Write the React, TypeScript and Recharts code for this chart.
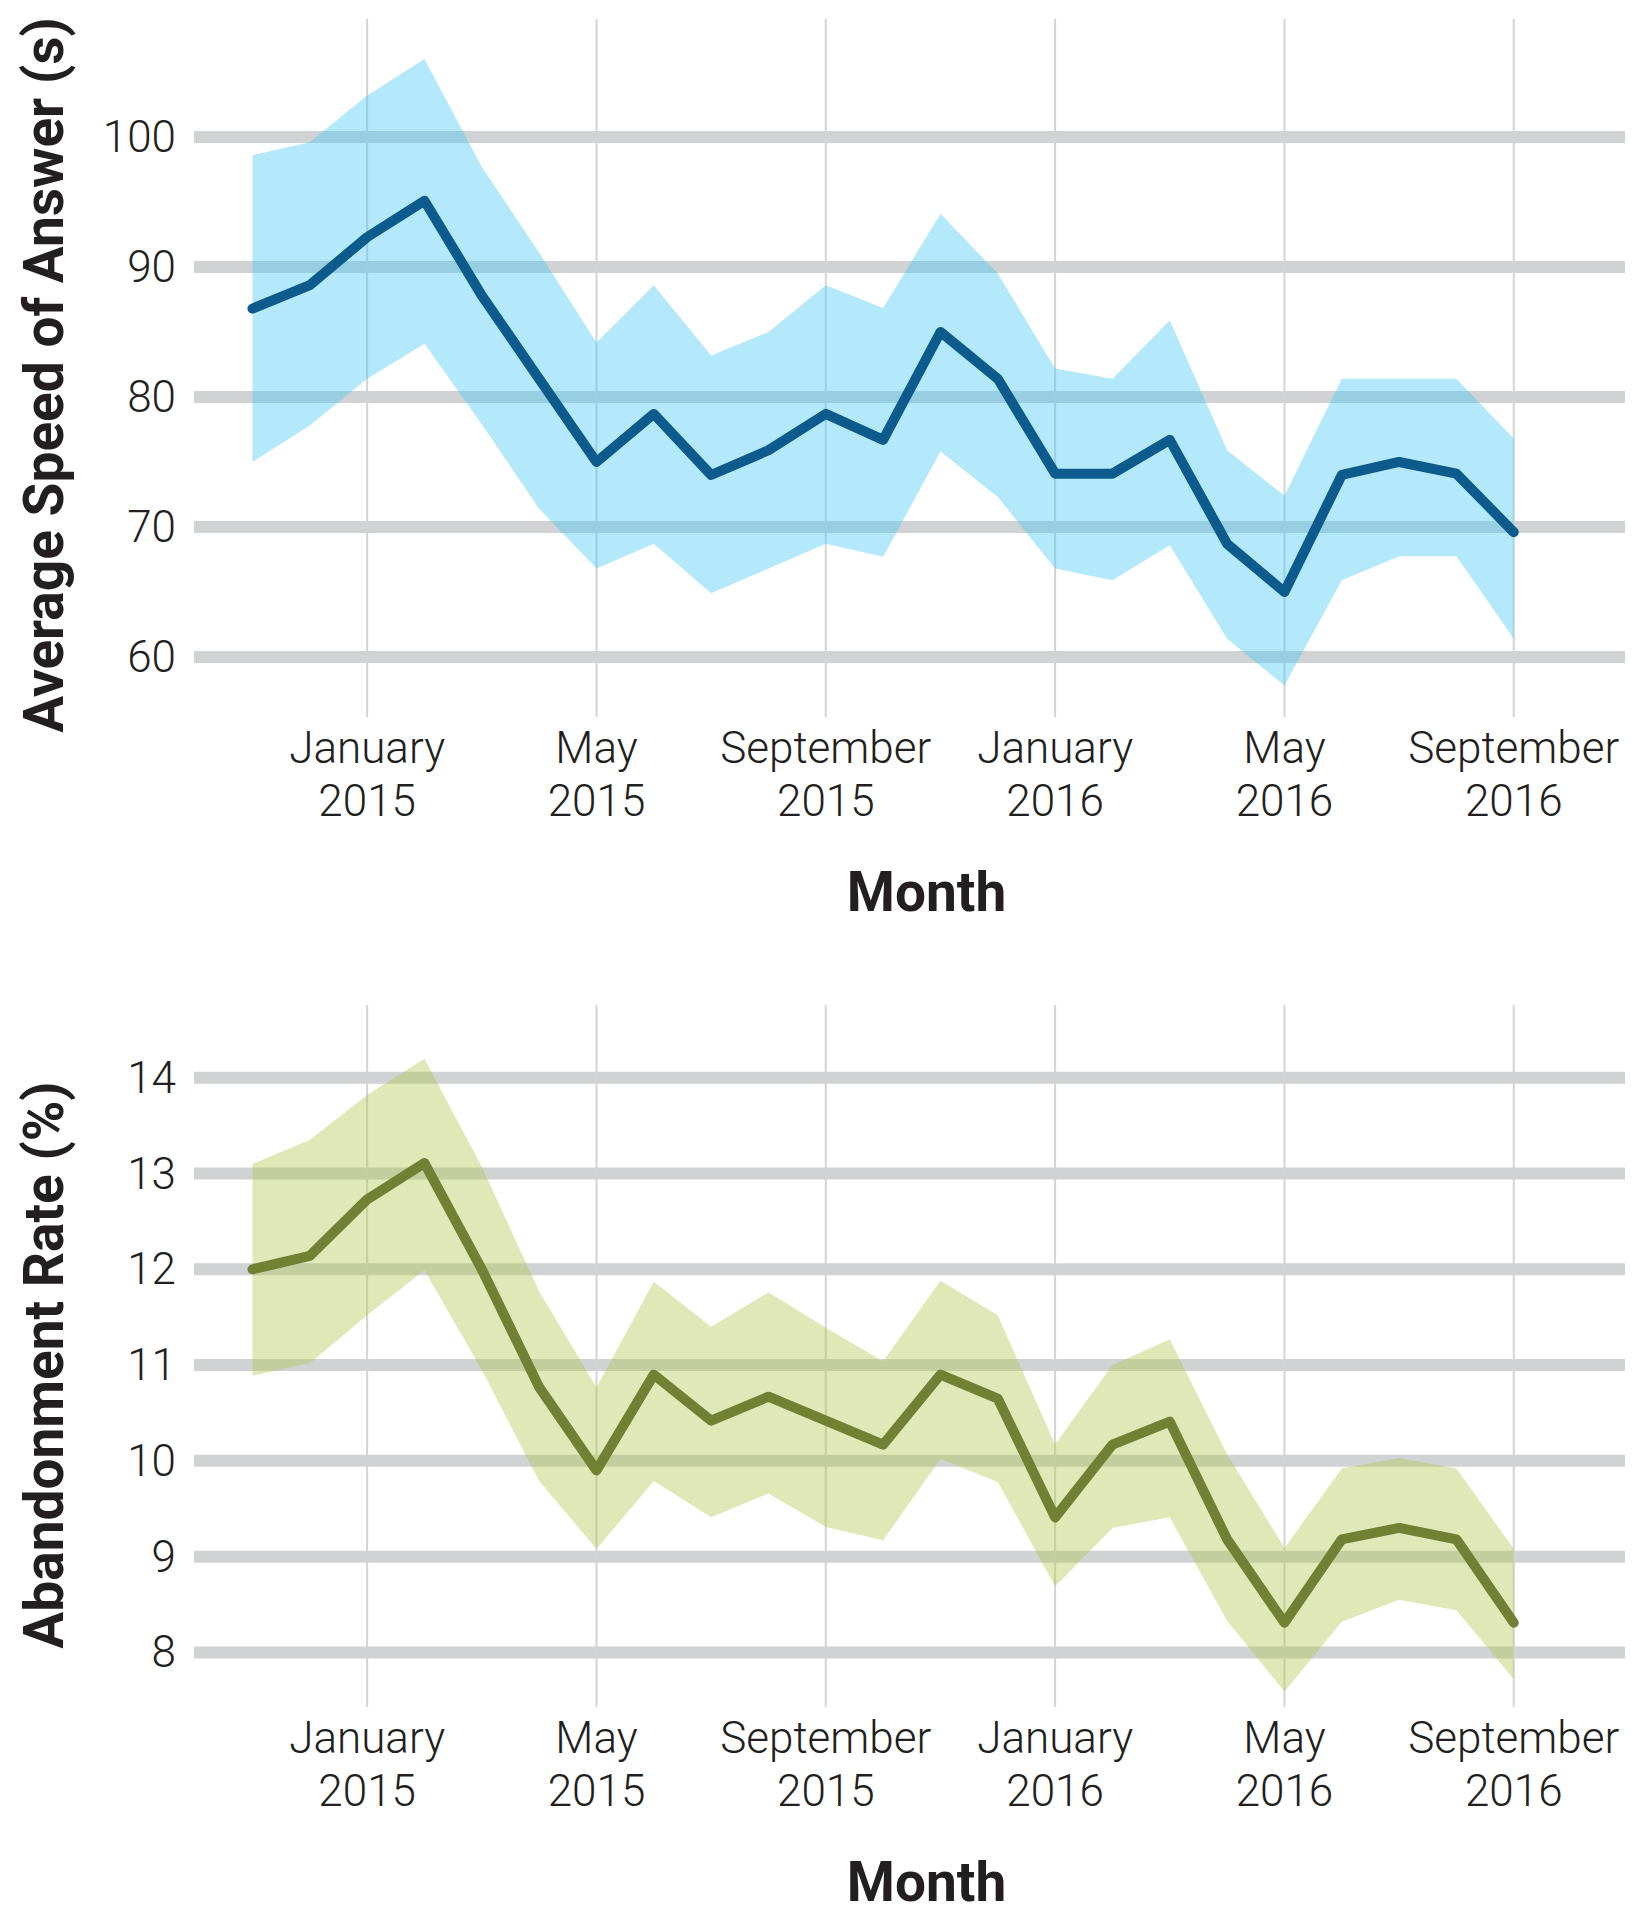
import React from 'react';
import { ComposedChart, Line, Area, XAxis, YAxis, CartesianGrid } from 'recharts';

// Months: Nov 2014 .. Sep 2016 (index 0..22)
const months = [
  'Nov 2014', 'Dec 2014', 'Jan 2015', 'Feb 2015', 'Mar 2015', 'Apr 2015', 'May 2015', 'Jun 2015',
  'Jul 2015', 'Aug 2015', 'Sep 2015', 'Oct 2015', 'Nov 2015', 'Dec 2015', 'Jan 2016', 'Feb 2016',
  'Mar 2016', 'Apr 2016', 'May 2016', 'Jun 2016', 'Jul 2016', 'Aug 2016', 'Sep 2016',
];

const asaMean = [86.8, 88.6, 92.3, 95.1, 87.8, 81.4, 75.0, 78.7, 74.0, 75.9, 78.7, 76.7, 85.0, 81.4, 74.1, 74.1, 76.7, 68.7, 65.0, 74.0, 75.0, 74.1, 69.6];
const asaUpper = [98.6, 99.6, 103.2, 106.0, 97.7, 91.1, 84.2, 88.6, 83.2, 85.0, 88.6, 86.85, 94.1, 89.5, 82.2, 81.4, 85.9, 75.9, 72.4, 81.4, 81.4, 81.4, 76.8];
const asaLower = [75.0, 77.8, 81.4, 84.1, 77.9, 71.4, 66.8, 68.7, 64.9, 66.8, 68.7, 67.7, 75.8, 72.3, 66.8, 65.9, 68.6, 61.4, 57.8, 65.9, 67.75, 67.75, 61.4];

const abnMean = [12.0, 12.14, 12.73, 13.11, 12.0, 10.77, 9.9, 10.9, 10.42, 10.67, 10.42, 10.17, 10.9, 10.65, 9.41, 10.17, 10.41, 9.18, 8.31, 9.18, 9.3, 9.18, 8.31];
const abnUpper = [13.1, 13.35, 13.82, 14.2, 13.07, 11.77, 10.77, 11.87, 11.4, 11.76, 11.39, 11.04, 11.88, 11.52, 10.17, 11.0, 11.27, 10.07, 9.09, 9.92, 10.03, 9.92, 9.08];
const abnLower = [10.89, 11.02, 11.52, 11.99, 10.95, 9.79, 9.08, 9.79, 9.41, 9.66, 9.31, 9.17, 10.02, 9.78, 8.69, 9.3, 9.41, 8.33, 7.59, 8.32, 8.55, 8.44, 7.72];

const xTickValues = [2, 6, 10, 14, 18, 22];
const xTickMonths = ['January', 'May', 'September', 'January', 'May', 'September'];
const xTickYears = ['2015', '2015', '2015', '2016', '2016', '2016'];

const asaTicks = [60, 70, 80, 90, 100];
const abnTicks = [8, 9, 10, 11, 12, 13, 14];

const asaData = months.map((m, i) => ({ idx: i, month: m, mean: asaMean[i], band: [asaLower[i], asaUpper[i]] }));
const abnData = months.map((m, i) => ({ idx: i, month: m, mean: abnMean[i], band: [abnLower[i], abnUpper[i]] }));

const TEXT = '#231f20';
const FONT = 'Roboto, "DejaVu Sans", sans-serif';
const TICK_SIZE = 44;
const TITLE_SIZE = 55;

const XTick = (props: any) => {
  const { x, y, payload } = props;
  const i = xTickValues.indexOf(payload.value);
  return (
    <g>
      <text x={x} y={y + 46} textAnchor="middle" fontFamily={FONT} fontWeight={300} fontSize={TICK_SIZE} fill={TEXT}>
        {xTickMonths[i]}
      </text>
      <text x={x} y={y + 99} textAnchor="middle" fontFamily={FONT} fontWeight={300} fontSize={TICK_SIZE} fill={TEXT}>
        {xTickYears[i]}
      </text>
    </g>
  );
};

const YTick = (props: any) => {
  const { x, y, payload } = props;
  return (
    <text x={x} y={y} dy={15} textAnchor="end" fontFamily={FONT} fontWeight={300} fontSize={TICK_SIZE} fill={TEXT}>
      {payload.value}
    </text>
  );
};

const makeXTitle = (text: string) => (props: any) => {
  const vb = props.viewBox || {};
  return (
    <text x={vb.x + vb.width / 2 + 17} y={vb.y + 194} textAnchor="middle" fontFamily={FONT} fontWeight={700} fontSize={TITLE_SIZE} fill={TEXT}>
      {text}
    </text>
  );
};

const makeYTitle = (text: string, shift: number) => (props: any) => {
  const vb = props.viewBox || {};
  const cy = vb.y + vb.height / 2 + shift;
  return (
    <text transform={`translate(63, ${cy}) rotate(-90)`} textAnchor="middle" fontFamily={FONT} fontWeight={700} fontSize={TITLE_SIZE} fill={TEXT}>
      {text}
    </text>
  );
};

type PanelProps = {
  data: any[];
  height: number;
  plotHeight: number;
  domain: [number, number];
  ticks: number[];
  lineColor: string;
  bandColor: string;
  yTitle: string;
  yShift: number;
};

const Panel = ({ data, height, plotHeight, domain, ticks, lineColor, bandColor, yTitle, yShift }: PanelProps) => (
  <ComposedChart width={1646} height={height} data={data} margin={{ top: 19, right: 21, bottom: 0, left: 0 }}>
    <CartesianGrid vertical={false} stroke="#d1d2d4" strokeWidth={12} syncWithTicks />
    <CartesianGrid horizontal={false} stroke="#d3d3d5" strokeWidth={2} syncWithTicks />
    <XAxis
      dataKey="idx"
      type="number"
      domain={[-1.02, 23.94]}
      allowDataOverflow
      ticks={xTickValues}
      axisLine={false}
      tickLine={false}
      tickSize={0}
      tickMargin={0}
      height={height - 19 - plotHeight}
      tick={<XTick />}
      interval={0}
      label={makeXTitle('Month')}
    />
    <YAxis
      type="number"
      domain={domain}
      allowDataOverflow
      ticks={ticks}
      axisLine={false}
      tickLine={false}
      tickSize={0}
      tickMargin={18}
      width={194}
      tick={<YTick />}
      interval={0}
      label={makeYTitle(yTitle, yShift)}
    />
    <Area
      type="linear"
      dataKey="band"
      stroke="none"
      fill={bandColor}
      fillOpacity={0.41}
      isAnimationActive={false}
      activeDot={false}
      dot={false}
    />
    <Line
      type="linear"
      dataKey="mean"
      stroke={lineColor}
      strokeWidth={10}
      strokeLinejoin="round"
      strokeLinecap="round"
      dot={false}
      activeDot={false}
      isAnimationActive={false}
    />
  </ComposedChart>
);

export default function App() {
  return (
    <div style={{ position: 'absolute', left: 0, top: 0, width: 1646, background: '#fff' }}>
      <Panel
        data={asaData}
        height={986}
        plotHeight={698}
        domain={[55.38, 109.08]}
        ticks={asaTicks}
        lineColor="#0d5a8c"
        bandColor="#47caf3"
        yTitle="Average Speed of Answer (s)"
        yShift={7}
      />
      <Panel
        data={abnData}
        height={934}
        plotHeight={702}
        domain={[7.43, 14.76]}
        ticks={abnTicks}
        lineColor="#718033"
        bandColor="#b1c74e"
        yTitle="Abandonment Rate (%)"
        yShift={9}
      />
    </div>
  );
}
